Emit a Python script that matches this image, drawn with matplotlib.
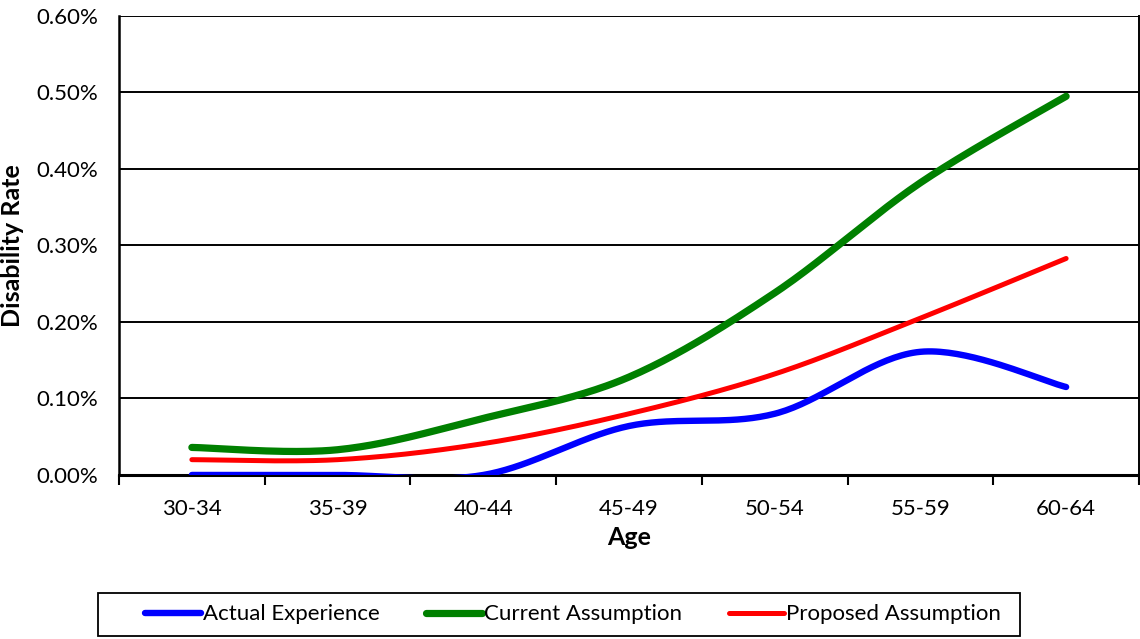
import numpy as np
import matplotlib
matplotlib.use("Agg")
import matplotlib.pyplot as plt
from matplotlib.ticker import FuncFormatter, FixedLocator
from matplotlib.patches import Rectangle

plt.rcParams['font.family'] = ['Lato', 'DejaVu Sans']

# Disability rates by age band (in %)
age_bands = ["30-34", "35-39", "40-44", "45-49", "50-54", "55-59", "60-64"]
actual_experience = [0.000, 0.000, 0.000, 0.064, 0.080, 0.161, 0.115]
current_assumption = [0.036, 0.033, 0.074, 0.128, 0.238, 0.382, 0.495]
proposed_assumption = [0.020, 0.020, 0.041, 0.080, 0.132, 0.205, 0.283]

series_names = ["Actual Experience", "Current Assumption", "Proposed Assumption"]
series_colors = ["#0000FF", "#008000", "#FF0000"]
series_widths = [4.6, 5.2, 3.6]


def smooth_curve(xs, ys, n=40):
    """Spreadsheet-style smoothed line: cubic Bezier segments with
    Catmull-Rom control points (tension 1/6)."""
    xs = np.asarray(xs, float)
    ys = np.asarray(ys, float)
    px = np.concatenate([[xs[0]], xs, [xs[-1]]])
    py = np.concatenate([[ys[0]], ys, [ys[-1]]])
    out_x, out_y = [], []
    t = np.linspace(0, 1, n)
    for i in range(1, len(px) - 2):
        p0 = np.array([px[i], py[i]])
        p3 = np.array([px[i + 1], py[i + 1]])
        c1 = p0 + (np.array([px[i + 1], py[i + 1]]) - np.array([px[i - 1], py[i - 1]])) / 6.0
        c2 = p3 - (np.array([px[i + 2], py[i + 2]]) - np.array([px[i], py[i]])) / 6.0
        b = ((1 - t) ** 3)[:, None] * p0 + (3 * (1 - t) ** 2 * t)[:, None] * c1 \
            + (3 * (1 - t) * t ** 2)[:, None] * c2 + (t ** 3)[:, None] * p3
        out_x.extend(b[:, 0])
        out_y.extend(b[:, 1])
    return np.array(out_x), np.array(out_y)


fig = plt.figure(figsize=(11.4, 6.39), dpi=100)
ax = fig.add_axes([0.1044, 0.2567, 0.8947, 0.7183])

x = np.arange(len(age_bands))
for vals, name, col, lw in zip([actual_experience, current_assumption, proposed_assumption],
                               series_names, series_colors, series_widths):
    sx, sy = smooth_curve(x, vals)
    ax.plot(sx, sy, color=col, lw=lw, solid_capstyle='round', label=name, zorder=3)

ax.set_xlim(-0.5, len(age_bands) - 0.5)
ax.set_ylim(0, 0.60)
ax.set_yticks(np.arange(0, 0.61, 0.10))
ax.yaxis.set_major_formatter(FuncFormatter(lambda v, p: f"{v:.2f}%"))
ax.grid(axis='y', color='black', lw=1.4, zorder=1)
ax.tick_params(axis='y', length=0, labelsize=16, pad=15)

ax.set_xticks(x)
ax.set_xticklabels(age_bands)
ax.xaxis.set_minor_locator(FixedLocator(np.arange(-0.5, len(age_bands), 1.0)))
ax.tick_params(axis='x', which='major', length=0, labelsize=16, pad=17)
ax.tick_params(axis='x', which='minor', length=7, width=1.5, direction='out', color='black')

ax.spines['top'].set_visible(False)
ax.spines['left'].set_linewidth(1.8)
ax.spines['bottom'].set_linewidth(2.2)
ax.spines['right'].set_linewidth(1.4)

ax.set_xlabel("Age", fontsize=18, fontweight='bold', labelpad=5)
ax.set_ylabel("Disability Rate", fontsize=18, fontweight='bold', labelpad=9)

# Legend box along the bottom of the figure
fig.patches.append(Rectangle((98 / 1140, 3 / 639), 922 / 1140, 43 / 639,
                             transform=fig.transFigure, fill=False,
                             edgecolor='black', lw=1.3))
leg = fig.legend(loc='center left', bbox_to_anchor=(145 / 1140, 1 - 614.5 / 639), ncol=3,
                 frameon=False, fontsize=16, handlelength=2.5, handletextpad=0.1,
                 columnspacing=2.1, borderpad=0, borderaxespad=0)

fig.savefig("out.png", dpi=100)
